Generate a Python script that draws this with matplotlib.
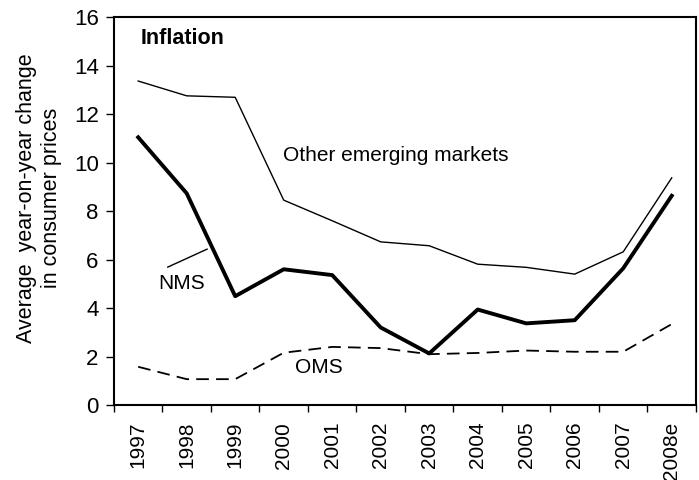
import matplotlib
matplotlib.use("Agg")
import matplotlib.pyplot as plt

years = ["1997", "1998", "1999", "2000", "2001", "2002", "2003",
         "2004", "2005", "2006", "2007", "2008e"]
other_em = [13.36, 12.75, 12.69, 8.45, 7.6, 6.73, 6.57, 5.81, 5.68, 5.4, 6.32, 9.37]
nms = [11.04, 8.73, 4.49, 5.6, 5.36, 3.2, 2.13, 3.94, 3.37, 3.5, 5.64, 8.63]
oms = [1.58, 1.07, 1.07, 2.16, 2.4, 2.35, 2.1, 2.15, 2.25, 2.2, 2.2, 3.34]

plt.rcParams["font.family"] = ["Liberation Sans", "DejaVu Sans"]

fig = plt.figure(figsize=(6.99, 4.8), dpi=100)
ax = fig.add_axes([0.163, 0.156, 0.8327, 0.8086])

x = list(range(len(years)))
ax.plot(x, other_em, color="black", lw=1.0)
ax.plot(x, nms, color="black", lw=2.8)
ax.plot(x, oms, color="black", lw=1.3, dashes=(7, 4))

ax.set_xlim(-0.5, len(years) - 0.5)
ax.set_ylim(0, 16)
ax.set_yticks(range(0, 17, 2))
# category axis: ticks between categories, labels centred on them
ax.set_xticks([i - 0.5 for i in range(len(years) + 1)])
ax.set_xticklabels([])
ax.set_xticks(x, minor=True)
ax.set_xticklabels(years, minor=True, rotation=90, fontsize=15)
ax.tick_params(axis="x", which="minor", length=0, pad=12)
ax.tick_params(axis="x", which="major", length=5, width=1)
ax.tick_params(axis="y", length=6, width=1, labelsize=16, pad=5)

for s in ax.spines.values():
    s.set_linewidth(1.5)

fig.text(0.056, 0.5875, "Average  year-on-year change\nin consumer prices",
         fontsize=15.5, rotation=90, ha="center", va="center",
         multialignment="center", linespacing=1.25)

ax.text(0.05, 15.13, "Inflation", fontsize=15.5, weight="bold", va="center")
ax.text(2.98, 10.3, "Other emerging markets", fontsize=15, va="center")
ax.text(0.41, 5.03, "NMS", fontsize=15, va="center")
ax.plot([0.61, 1.42], [5.69, 6.43], color="black", lw=1.0)
ax.text(3.23, 1.57, "OMS", fontsize=15, va="center")

fig.savefig("out.png", dpi=100)
